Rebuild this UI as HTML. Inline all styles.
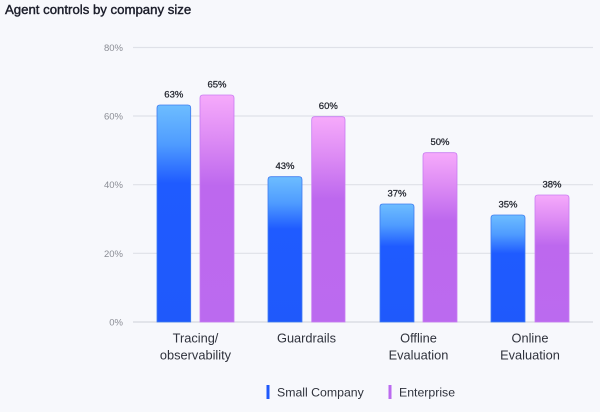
<!DOCTYPE html>
<html><head><meta charset="utf-8"><style>
html,body{margin:0;padding:0;background:#f7f8fc;}
svg{display:block;font-family:"Liberation Sans",sans-serif;}
</style></head><body>
<svg width="600" height="412" viewBox="0 0 600 412" xmlns="http://www.w3.org/2000/svg">
<defs>
<linearGradient id="gb" x1="0" y1="0" x2="0" y2="1">
<stop offset="0" stop-color="#6dbdff"/>
<stop offset="0.18" stop-color="#4f9cff"/>
<stop offset="0.36" stop-color="#1f5bff"/>
<stop offset="1" stop-color="#1f59fb"/>
</linearGradient>
<linearGradient id="gp" x1="0" y1="0" x2="0" y2="1">
<stop offset="0" stop-color="#f6aafb"/>
<stop offset="0.2" stop-color="#dc8af4"/>
<stop offset="0.4" stop-color="#bd68ee"/>
<stop offset="1" stop-color="#bb6aef"/>
</linearGradient>
</defs>
<rect width="600" height="412" fill="#f7f8fc"/>
<text x="5" y="14" font-size="13.2" fill="#1b1d2a" stroke="#1b1d2a" stroke-width="0.4">Agent controls by company size</text>
<g stroke="#dfe1e8" stroke-width="1.2">
<line x1="133" y1="47.5" x2="593" y2="47.5"/>
<line x1="133" y1="116" x2="593" y2="116"/>
<line x1="133" y1="184.7" x2="593" y2="184.7"/>
<line x1="133" y1="253.3" x2="593" y2="253.3"/>
<line x1="133" y1="322" x2="593" y2="322" stroke="#d6d8e0"/>
</g>
<g font-size="9.5" fill="#8a8c94" text-anchor="end">
<text x="123" y="51">80%</text>
<text x="123" y="119.5">60%</text>
<text x="123" y="188.2">40%</text>
<text x="123" y="256.8">20%</text>
<text x="123" y="325.5">0%</text>
</g>
<g stroke-width="0.8">
<path d="M157,322 V108 Q157,105 160,105 H187.7 Q190.7,105 190.7,108 V322 Z" fill="url(#gb)" stroke="#3f7cf0"/>
<path d="M268,322 V179.7 Q268,176.7 271,176.7 H299 Q302,176.7 302,179.7 V322 Z" fill="url(#gb)" stroke="#3f7cf0"/>
<path d="M380,322 V207 Q380,204 383,204 H411 Q414,204 414,207 V322 Z" fill="url(#gb)" stroke="#3f7cf0"/>
<path d="M491,322 V218 Q491,215 494,215 H522 Q525,215 525,218 V322 Z" fill="url(#gb)" stroke="#3f7cf0"/>
<path d="M200,322 V98 Q200,95 203,95 H231 Q234,95 234,98 V322 Z" fill="url(#gp)" stroke="#c97cf2"/>
<path d="M311.7,322 V119.7 Q311.7,116.7 314.7,116.7 H342 Q345,116.7 345,119.7 V322 Z" fill="url(#gp)" stroke="#c97cf2"/>
<path d="M423,322 V155.7 Q423,152.7 426,152.7 H454 Q457,152.7 457,155.7 V322 Z" fill="url(#gp)" stroke="#c97cf2"/>
<path d="M535,322 V198 Q535,195 538,195 H566 Q569,195 569,198 V322 Z" fill="url(#gp)" stroke="#c97cf2"/>
</g>
<g font-size="9.5" fill="#22252e" text-anchor="middle" stroke="#22252e" stroke-width="0.25">
<text x="173.8" y="97.5">63%</text>
<text x="217" y="87.5">65%</text>
<text x="285" y="169.2">43%</text>
<text x="328.3" y="109.2">60%</text>
<text x="397" y="196.5">37%</text>
<text x="440" y="145.2">50%</text>
<text x="508" y="207.5">35%</text>
<text x="552" y="187.5">38%</text>
</g>
<g font-size="12.8" fill="#2f323c" text-anchor="middle">
<text x="195.5" y="342.5">Tracing/</text>
<text x="195.5" y="359.5">observability</text>
<text x="306.5" y="342.5">Guardrails</text>
<text x="418.5" y="342.5">Offline</text>
<text x="418.5" y="359.5">Evaluation</text>
<text x="530" y="342.5">Online</text>
<text x="530" y="359.5">Evaluation</text>
</g>
<rect x="266.5" y="385" width="3" height="14" fill="#1f59fb"/>
<text x="277" y="396.5" font-size="12.3" fill="#2f323c">Small Company</text>
<rect x="388.5" y="385" width="3" height="14" fill="#bb6aef"/>
<text x="399" y="396.5" font-size="12.3" fill="#2f323c">Enterprise</text>
</svg>
</body></html>
